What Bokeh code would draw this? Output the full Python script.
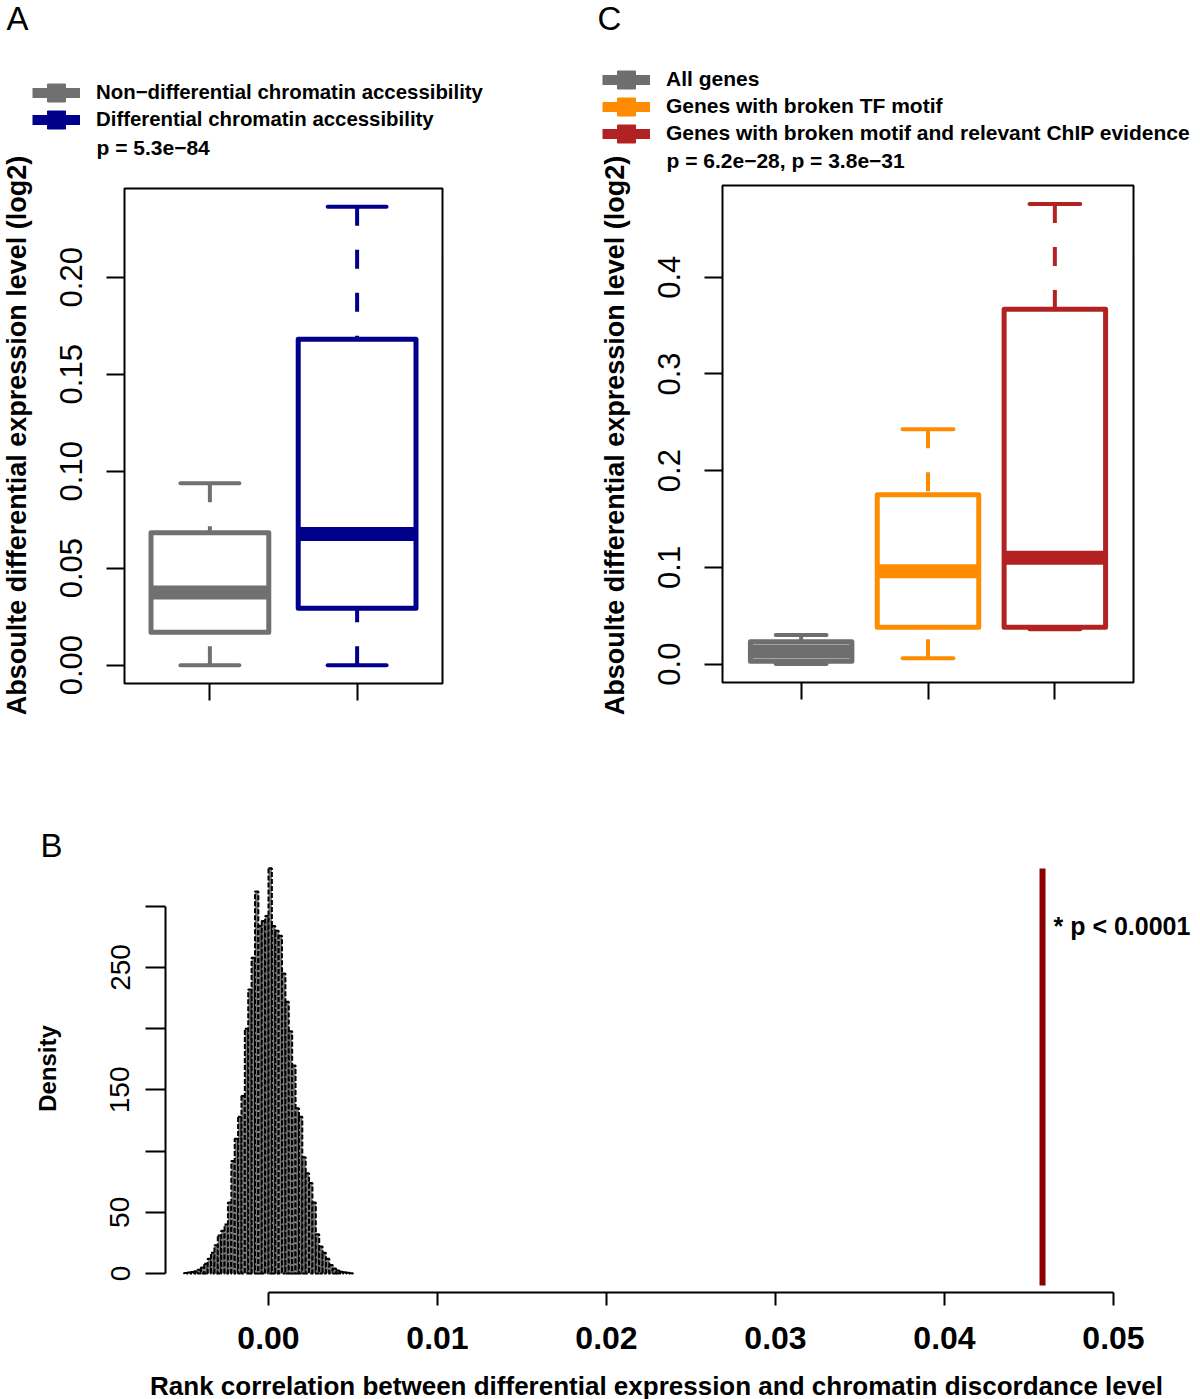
import math
import numpy as np
from bokeh.plotting import figure
from bokeh.models import (Range1d, FixedTicker, Label, Legend, LegendItem, BoxAnnotation,
                          LinearAxis, PrintfTickFormatter, ColumnDataSource)
from bokeh.layouts import row, column
from bokeh.embed import file_html
from bokeh.resources import INLINE

FONT = "Liberation Sans"

# ---------------- data ----------------
y_title = "Absoulte differential expression level (log2)"

# Panel A
a_labels = ["Non\u2212differential chromatin accessibility", "Differential chromatin accessibility"]
a_colors = ["#707070", "#00008B"]
a_pos = [1, 2]
a_low = [0.0, 0.0]
a_q1 = [0.0170, 0.0293]
a_med = [0.0374, 0.0676]
a_q3 = [0.0683, 0.1680]
a_high = [0.0938, 0.2363]
a_pvalue = "p = 5.3e\u221284"
a_yticks = [0.0, 0.05, 0.10, 0.15, 0.20]

# Panel C
c_labels = ["All genes", "Genes with broken TF motif",
            "Genes with broken motif and relevant ChIP evidence"]
c_colors = ["#6E6E6E", "#FF8C00", "#B22222"]
c_pos = [1, 2, 3]
c_low = [0.0, 0.006, 0.036]
c_q1 = [0.003, 0.038, 0.038]
c_med = [0.013, 0.096, 0.110]
c_q3 = [0.023, 0.175, 0.367]
c_high = [0.030, 0.2427, 0.4758]
c_pvalue = "p = 6.2e\u221228,  p = 3.8e\u221231"
c_yticks = [0.0, 0.1, 0.2, 0.3, 0.4]

# Panel B (null distribution histogram, density)
b_bin_start = -0.0050
b_bin_width = 0.0002
b_density = [0.5, 0.8, 1.2, 1.8, 3, 5, 8, 12, 17, 23,
             31, 35, 40, 58, 92, 110, 128, 145, 200, 232,
             258, 312, 284, 288, 292, 331, 284, 280, 276, 245,
             222, 198, 170, 135, 128, 95, 82, 74, 58, 32,
             22, 17, 12, 7, 4, 2.5, 1.5, 1.0, 0.6, 0.3]
b_observed = 0.0458
b_annotation = "* p < 0.0001"
b_xticks = [0.00, 0.01, 0.02, 0.03, 0.04, 0.05]
b_yticks = [0, 50, 100, 150, 200, 250, 300]
b_ytick_labels = ["0", "50", "", "150", "", "250", ""]
b_xlabel = "Rank correlation between differential expression and chromatin discordance level"
b_ylabel = "Density"


# ---------------- helpers ----------------
class Panel:
    """A figure whose frame covers the whole canvas; box_px (l, t, r, b in canvas px)
    shows where data box (x0, x1, y0, y1) lies."""

    def __init__(self, width, height, box_px, box_data):
        l, t, r, b = box_px
        x0, x1, y0, y1 = box_data
        self.w, self.h = width, height
        self.kx = (r - l) / (x1 - x0)
        self.ky = (b - t) / (y1 - y0)
        self.xs = x0 - l / self.kx
        self.ye = y1 + t / self.ky
        xr = Range1d(self.xs, x1 + (width - r) / self.kx)
        yr = Range1d(y0 - (height - b) / self.ky, self.ye)
        p = figure(width=width, height=height, x_range=xr, y_range=yr,
                   x_axis_type=None, y_axis_type=None, output_backend="svg",
                   toolbar_location=None, min_border=0)
        p.outline_line_color = None
        p.xgrid.visible = False
        p.ygrid.visible = False
        p.background_fill_color = "white"
        p.border_fill_color = "white"
        self.p = p

    def x_of(self, px):
        return self.xs + px / self.kx

    def y_of(self, py):
        return self.ye - py / self.ky

    def label(self, text, px, py, size, bold=False, angle=0.0, align="left",
              baseline="middle"):
        self.p.add_layout(Label(x=px, y=self.h - py, x_units="screen", y_units="screen",
                                text=text, angle=angle, text_align=align,
                                text_baseline=baseline, text_font=FONT,
                                text_font_size=size,
                                text_font_style="bold" if bold else "normal",
                                text_color="black"))

    def legend_rows(self, labels, colors, glyph_left, row_centers, font_size):
        for lab, col, yc in zip(labels, colors, row_centers):
            r1 = self.p.line(x=[np.nan], y=[np.nan], line_color=col, line_width=10)
            r2 = self.p.scatter(x=[np.nan], y=[np.nan], marker="square", size=18,
                                fill_color=col, line_color=col)
            leg = Legend(items=[LegendItem(label=lab, renderers=[r1, r2])],
                         location=(glyph_left, self.h - (yc + 22.5)),
                         glyph_width=48, glyph_height=45, label_height=45, label_width=10,
                         spacing=0, label_standoff=16, padding=0, margin=0,
                         border_line_color=None, background_fill_alpha=0,
                         label_text_font=FONT, label_text_font_style="bold",
                         label_text_font_size=font_size, label_text_color="black")
            self.p.add_layout(leg)


def style_axis(ax, font_size, standoff, tick_out, bold=False, orientation="horizontal"):
    ax.major_label_text_font = FONT
    ax.major_label_text_font_size = font_size
    ax.major_label_text_font_style = "bold" if bold else "normal"
    ax.major_label_text_color = "black"
    ax.major_label_standoff = standoff
    ax.major_label_orientation = orientation
    ax.major_tick_out = tick_out
    ax.major_tick_in = 0
    ax.major_tick_line_width = 2
    ax.major_tick_line_color = "black"
    ax.minor_tick_line_color = None


def boxplot_panel(width, height, box_px, pos, low, q1, med, q3, high, colors,
                  yticks, yfmt):
    n = len(pos)
    ymin, ymax = min(low), max(high)
    pad = 0.04 * (ymax - ymin)
    x0, x1 = 0.5 - 0.04 * n, n + 0.5 + 0.04 * n
    y0, y1 = ymin - pad, ymax + pad
    P = Panel(width, height, box_px, (x0, x1, y0, y1))
    p = P.p
    src = ColumnDataSource(dict(
        pos=pos, low=low, q1=q1, med=med, q3=q3, high=high, color=colors,
        left=[x - 0.4 for x in pos], right=[x + 0.4 for x in pos],
        capl=[x - 0.2 for x in pos], capr=[x + 0.2 for x in pos]))
    p.segment(x0="pos", y0="high", x1="pos", y1="q3", line_color="color",
              line_width=4, line_dash="19 24", source=src)
    p.segment(x0="pos", y0="low", x1="pos", y1="q1", line_color="color",
              line_width=4, line_dash="19 24", source=src)
    p.segment(x0="capl", y0="high", x1="capr", y1="high", line_color="color",
              line_width=4, line_cap="round", source=src)
    p.segment(x0="capl", y0="low", x1="capr", y1="low", line_color="color",
              line_width=4, line_cap="round", source=src)
    p.quad(left="left", right="right", bottom="q1", top="q3", fill_color="white",
           line_color="color", line_width=5, line_join="round", source=src)
    p.segment(x0="left", y0="med", x1="right", y1="med", line_color="color",
              line_width=14, source=src)
    # plot box
    p.add_layout(BoxAnnotation(left=x0, right=x1, bottom=y0, top=y1, fill_alpha=0,
                               fill_color=None, line_color="black", line_width=2,
                               line_alpha=1))
    # axes
    yax = LinearAxis(fixed_location=x0, ticker=FixedTicker(ticks=yticks),
                     formatter=PrintfTickFormatter(format=yfmt))
    yax.axis_line_color = None
    style_axis(yax, "31px", 24, 18, orientation="vertical")
    p.add_layout(yax, "left")
    xax = LinearAxis(fixed_location=y0, ticker=FixedTicker(ticks=pos),
                     major_label_overrides={v: "" for v in pos})
    xax.axis_line_color = None
    style_axis(xax, "10px", 2, 17)
    p.add_layout(xax, "below")
    return P


# ---------------- Panel A (canvas x 0..598, y 0..760) ----------------
PA = boxplot_panel(598, 760, (124, 188, 442, 683), a_pos, a_low, a_q1, a_med, a_q3,
                   a_high, a_colors, a_yticks, "%.2f")
PA.legend_rows(a_labels, a_colors, 32, [92, 119], "20.4px")
PA.label(a_pvalue, 96, 147, "21px", bold=True)
PA.label(y_title, 16, 435, "27px", bold=True, angle=math.pi / 2, align="center")
PA.label("A", 17, 18, "33px", align="center")

# ---------------- Panel C (canvas x 598..1200, y 0..760) ----------------
CX = 598
PC = boxplot_panel(602, 760, (722 - CX, 185, 1133 - CX, 682), c_pos, c_low, c_q1, c_med,
                   c_q3, c_high, c_colors, c_yticks, "%.1f")
PC.legend_rows(c_labels, c_colors, 602 - CX, [79, 106, 133], "21px")
PC.label(c_pvalue, 666 - CX, 160, "21px", bold=True)
PC.label(y_title, 614 - CX, 435, "27px", bold=True, angle=math.pi / 2, align="center")
PC.label("C", 609 - CX, 18, "33px", align="center")

# ---------------- Panel B (canvas x 0..1200, y 760..1399) ----------------
BY = 760
PB = Panel(1200, 639, (268, 967 - BY, 1113, 1273 - BY), (0.0, 0.05, 0.0, 250.0))
pB = PB.p
edges = b_bin_start + b_bin_width * np.arange(len(b_density) + 1)
pB.quad(left=edges[:-1], right=edges[1:], bottom=0, top=b_density,
        fill_color="#7A7A7A", line_color="black", line_width=2, line_dash="5 2")
pB.segment(x0=[b_observed], y0=[PB.y_of(1285 - BY)], x1=[b_observed],
           y1=[PB.y_of(868 - BY)], line_color="#8B0000", line_width=6)

yax = LinearAxis(fixed_location=PB.x_of(165), ticker=FixedTicker(ticks=b_yticks),
                 major_label_overrides={t: l for t, l in zip(b_yticks, b_ytick_labels)},
                 bounds=(b_yticks[0], b_yticks[-1]))
yax.axis_line_width = 2
yax.axis_line_color = "black"
style_axis(yax, "28px", 16, 20, orientation="vertical")
pB.add_layout(yax, "left")

xax = LinearAxis(fixed_location=PB.y_of(1292 - BY), ticker=FixedTicker(ticks=b_xticks),
                 formatter=PrintfTickFormatter(format="%.2f"),
                 bounds=(b_xticks[0], b_xticks[-1]))
xax.axis_line_width = 2
xax.axis_line_color = "black"
style_axis(xax, "32px", 21, 13, bold=True)
pB.add_layout(xax, "below")

PB.label(b_annotation, 1053, 925 - BY, "25px", bold=True)
PB.label(b_xlabel, 656, 1385 - BY, "26px", bold=True, align="center")
PB.label(b_ylabel, 47, 1068 - BY, "24px", bold=True, angle=math.pi / 2, align="center")
PB.label("B", 51, 845 - BY, "33px", align="center")

layout = column(row(PA.p, PC.p), PB.p)
open("out.html", "w").write(file_html(layout, INLINE))
